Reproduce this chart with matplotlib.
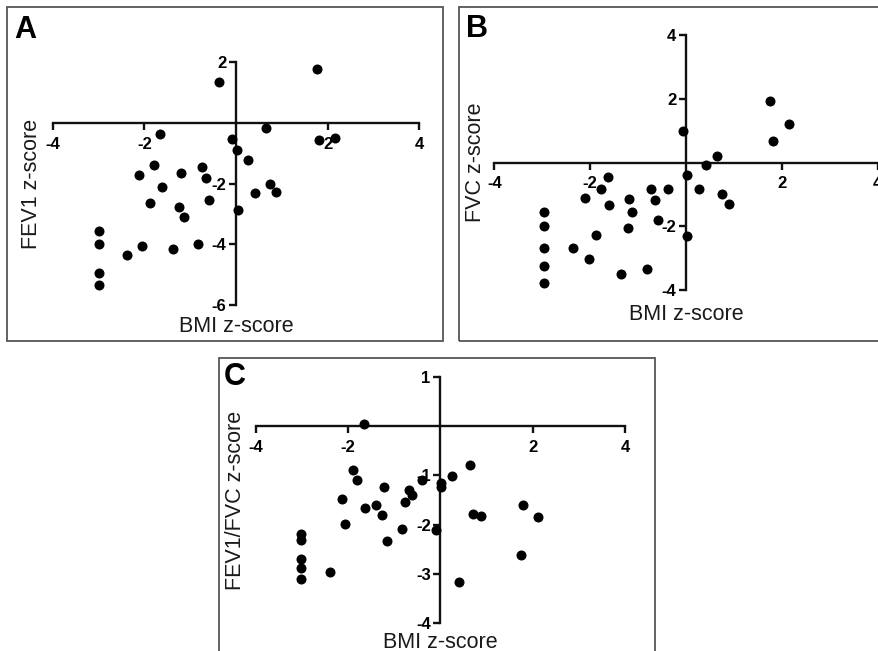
import matplotlib
matplotlib.use('Agg')
import matplotlib.pyplot as plt
from matplotlib.patches import Rectangle

plt.rcParams['font.family'] = ['Liberation Sans', 'DejaVu Sans']

# Panel A: BMI vs FEV1
a_bmi = [1.76, -0.37, 0.65, -1.66, -0.08, 1.81, 2.15, 0.03, 0.27, -1.79,
         -2.11, -1.20, -0.75, -0.65, -1.61, 0.74, 0.87, 0.41, -0.59, -1.88,
         -1.24, 0.04, -1.13, -3.0, -3.0, -2.06, -0.82, -1.38, -2.37, -3.0, -3.0]
a_fev1 = [1.78, 1.35, -0.16, -0.35, -0.52, -0.55, -0.49, -0.90, -1.23, -1.37,
          -1.70, -1.65, -1.44, -1.81, -2.12, -2.01, -2.27, -2.31, -2.53, -2.63,
          -2.76, -2.86, -3.10, -3.57, -3.98, -4.05, -4.00, -4.15, -4.36, -4.96, -5.35]

# Panel B: BMI vs FVC
b_bmi = [1.76, 2.14, 1.81, -0.06, 0.65, 0.42, 0.03, -1.63, -1.77, -2.10,
         -0.74, -0.37, 0.27, 0.76, 0.90, -0.64, -1.18, -1.60, -1.13, -2.96,
         -2.96, -0.59, -1.22, -1.87, 0.03, -2.96, -2.36, -2.03, -2.96, -0.81,
         -1.36, -2.96]
b_fvc = [1.94, 1.22, 0.67, 0.99, 0.21, -0.09, -0.40, -0.44, -0.84, -1.10,
         -0.83, -0.82, -0.82, -1.00, -1.31, -1.17, -1.14, -1.34, -1.56, -1.56,
         -2.00, -1.81, -2.05, -2.29, -2.32, -2.69, -2.67, -3.02, -3.26, -3.34,
         -3.50, -3.78]

# Panel C: BMI vs FEV1/FVC
c_bmi = [-1.66, -1.90, -1.80, 0.64, 0.26, -0.39, 0.01, 0.01, -1.21, -0.68,
         -0.61, -0.76, -2.14, -1.63, -1.39, -1.26, 0.71, 0.87, 1.80, 2.12,
         -2.06, -0.84, -0.10, -1.15, 1.75, -3.01, -3.01, -3.01, -3.01, -2.38,
         -3.01, 0.40]
c_ratio = [0.05, -0.88, -1.09, -0.79, -1.01, -1.09, -1.15, -1.24, -1.24, -1.30,
           -1.39, -1.54, -1.47, -1.66, -1.61, -1.80, -1.78, -1.83, -1.60, -1.85,
           -1.99, -2.09, -2.11, -2.33, -2.62, -2.19, -2.31, -2.70, -2.89, -2.96,
           -3.11, -3.18]

x_ticks = [-4, -2, 2, 4]
a_yticks = [2, -2, -4, -6]
b_yticks = [4, 2, -2, -4]
c_yticks = [1, -1, -2, -3, -4]

W, H = 879, 651
fig = plt.figure(figsize=(W / 100, H / 100), dpi=100)


def px_rect(x0, y0, x1, y1):
    # pixel box (from top-left) -> figure fraction rect
    return [x0 / W, (H - y1) / H, (x1 - x0) / W, (y1 - y0) / H]


def panel(rect, xs, ys, ylim, yticks, ylabel, ylabel_x, xlabel_off):
    ax = fig.add_axes(rect)
    ax.set_facecolor('none')
    ax.scatter(xs, ys, s=52, color='black', zorder=3, clip_on=False, linewidths=0)
    ax.set_xlim(-4, 4)
    ax.set_ylim(*ylim)
    for side in ['top', 'right']:
        ax.spines[side].set_visible(False)
    ax.spines['left'].set_position(('data', 0))
    ax.spines['bottom'].set_position(('data', 0))
    for side in ['left', 'bottom']:
        ax.spines[side].set_linewidth(1.7)
        ax.spines[side].set_color('#111111')
    ax.set_xticks(x_ticks)
    ax.set_yticks(yticks)
    ax.set_xticklabels([str(t) for t in x_ticks])
    ax.set_yticklabels([str(t) for t in yticks])
    ax.tick_params(axis='both', direction='out', length=5, width=1.7,
                   color='#111111', labelsize=12)
    ax.tick_params(axis='x', pad=5)
    ax.tick_params(axis='y', pad=2)
    for lab in ax.get_xticklabels() + ax.get_yticklabels():
        lab.set_fontweight('bold')
    ax.text(ylabel_x, 0.5, ylabel, transform=ax.transAxes, rotation=90,
            ha='center', va='center', fontsize=15.5, color='#1a1a1a')
    ax.annotate('BMI z-score', xy=(0, ylim[0]), xycoords='data',
                xytext=(0, -xlabel_off), textcoords='offset points',
                ha='center', va='baseline', fontsize=15.5, color='#1a1a1a')
    return ax


panel(px_rect(52.7, 62.3, 419.3, 305), a_bmi, a_fev1, (-6, 2), a_yticks,
      'FEV1 z-score', -0.0565, 19.2)
panel(px_rect(494.3, 35, 877.7, 290), b_bmi, b_fvc, (-4, 4), b_yticks,
      'FVC z-score', -0.048, 21.6)
panel(px_rect(255.7, 377.3, 625, 622.7), c_bmi, c_ratio, (-4, 1), c_yticks,
      'FEV1/FVC z-score', -0.056, 18.2)

# panel frames
for (x0, y0, x1, y1) in [(7, 7, 443, 341), (459, 7, 884, 341), (219, 358, 655, 660)]:
    r = px_rect(x0, y0, x1, y1)
    fig.patches.append(Rectangle((r[0], r[1]), r[2], r[3], transform=fig.transFigure,
                                 fill=False, edgecolor='#555555', linewidth=1.3))

# panel letters
for letter, (lx, ly) in [('A', (14, 38)), ('B', (466, 37)), ('C', (224, 385))]:
    fig.text(lx / W, 1 - ly / H, letter, fontsize=22, fontweight='bold',
             ha='left', va='baseline')

fig.savefig('out.png', dpi=100)
